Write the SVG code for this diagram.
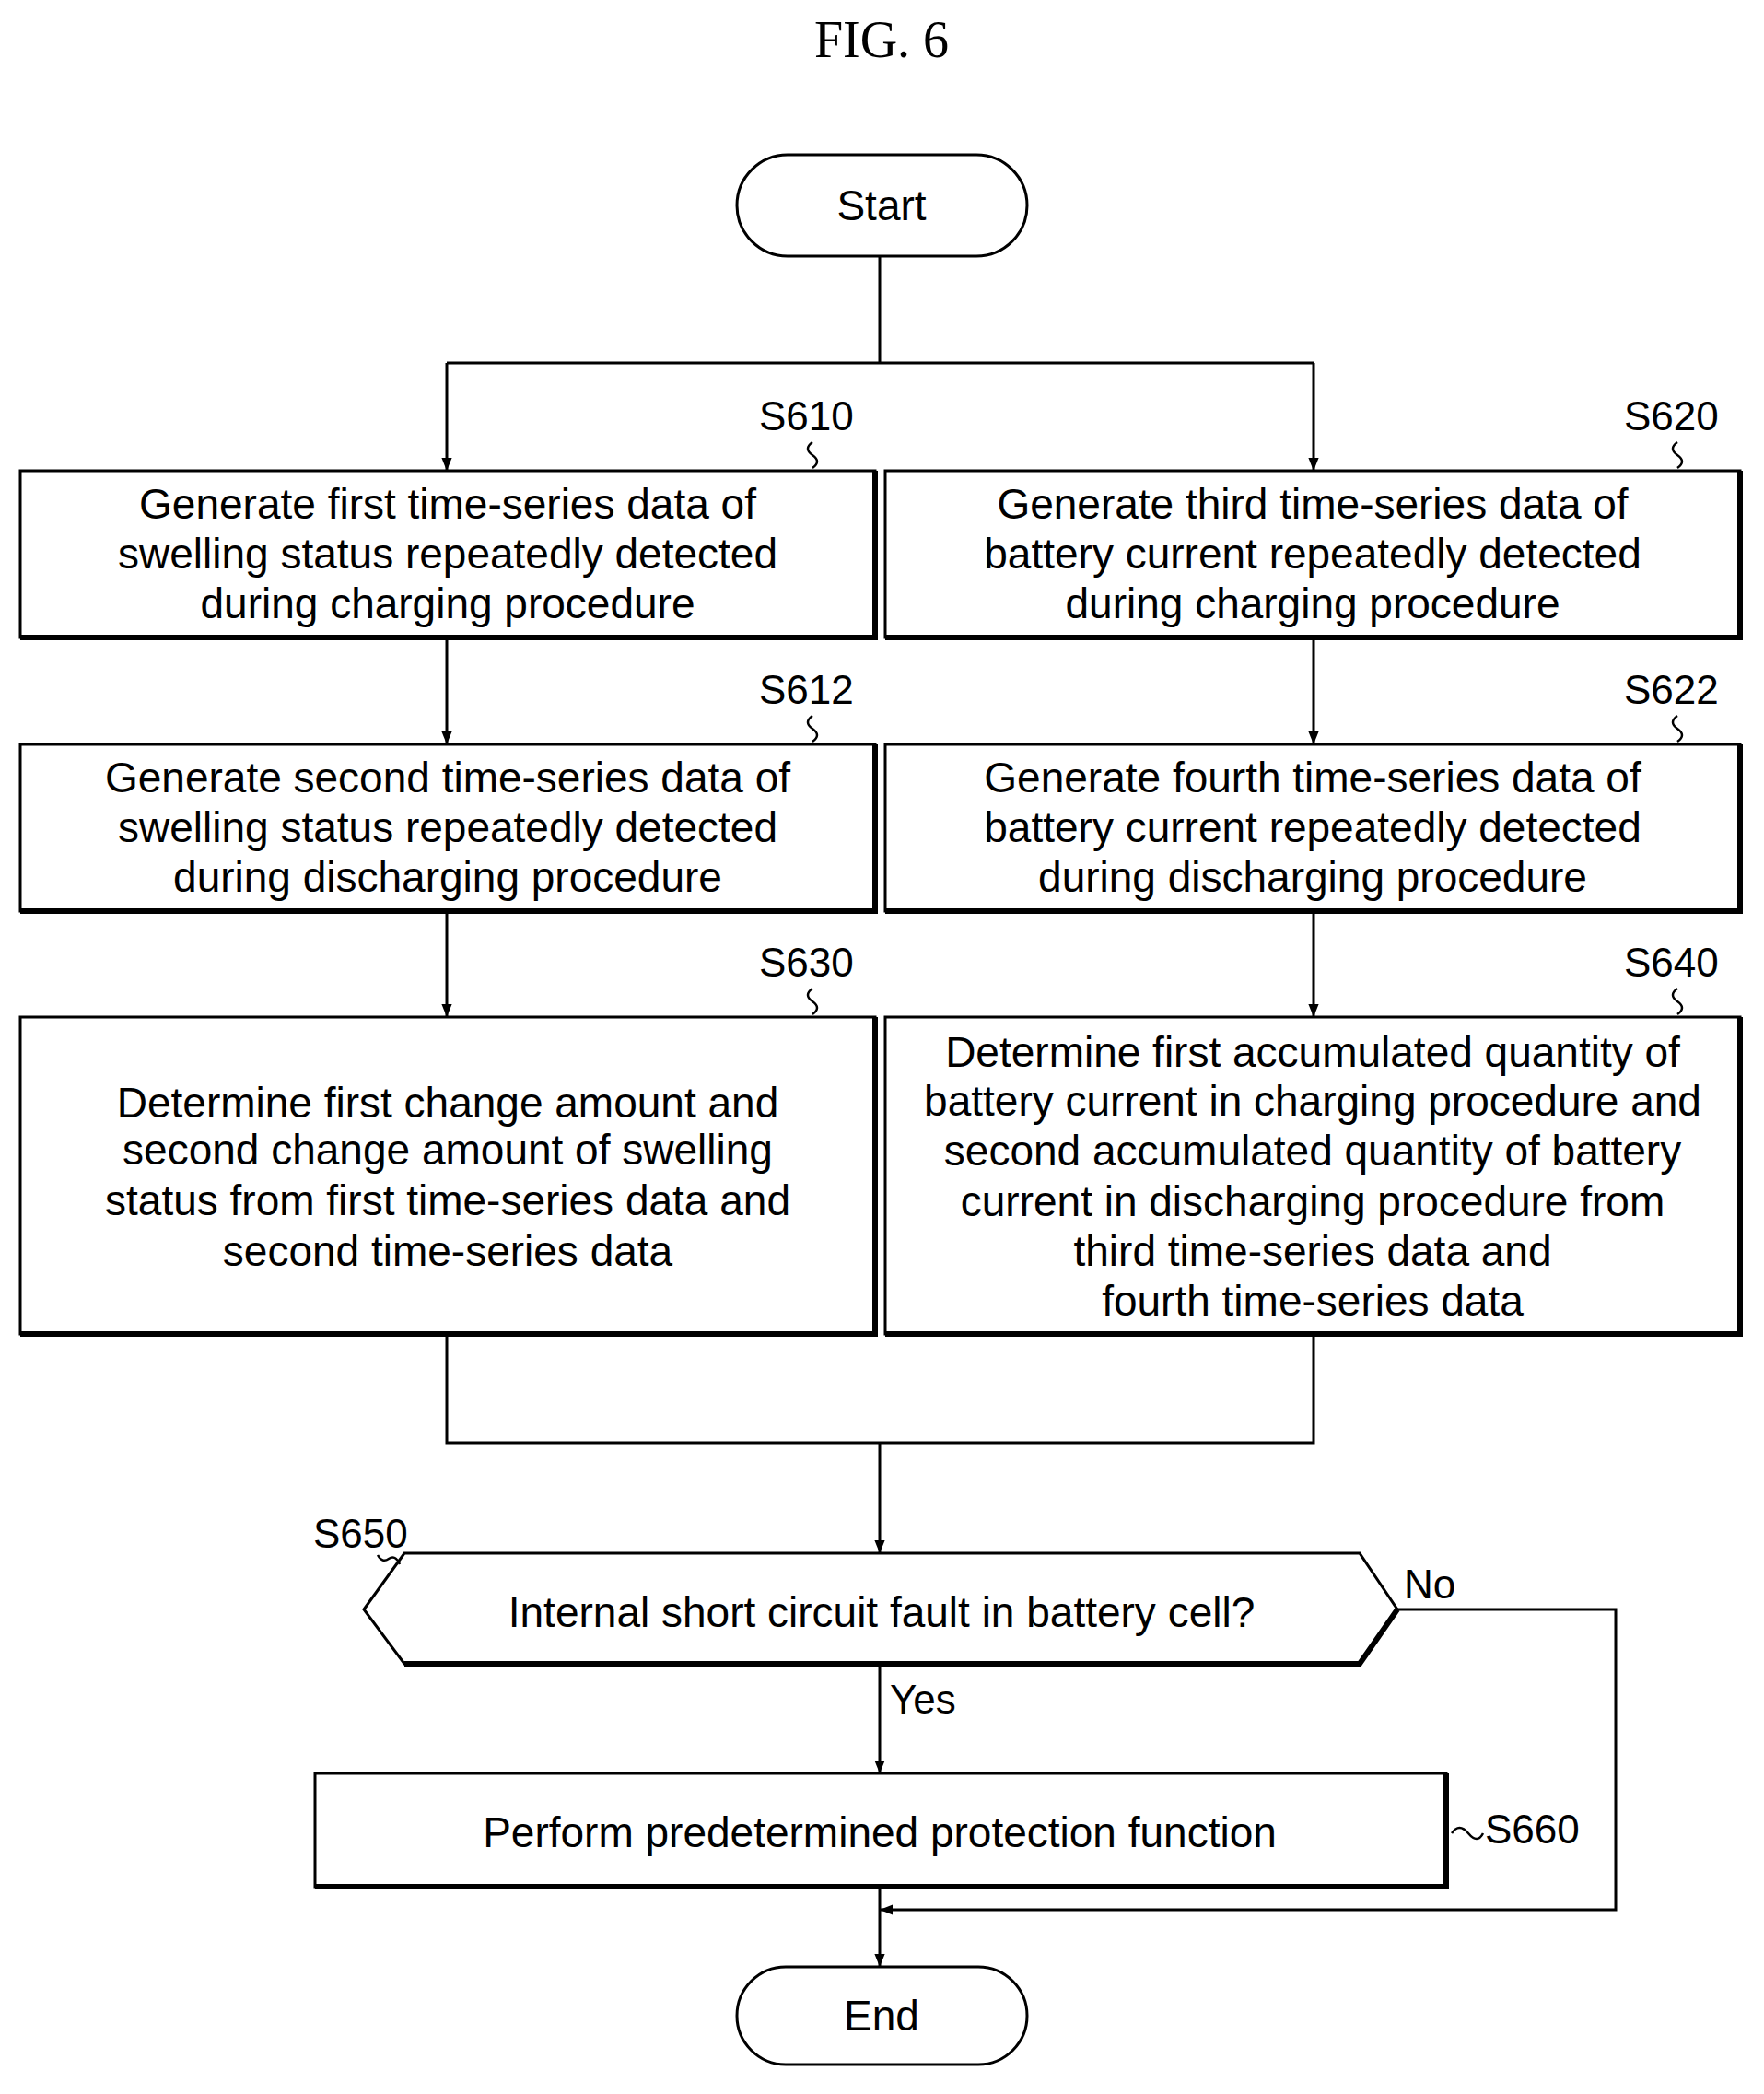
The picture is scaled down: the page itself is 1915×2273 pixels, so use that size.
<svg xmlns="http://www.w3.org/2000/svg" width="1915" height="2273" viewBox="0 0 1915 2273">
<defs>
<style>
.b{fill:#fff;stroke:#000;stroke-width:3}
.sh{fill:none;stroke:#000;stroke-width:6}
.c{fill:none;stroke:#000;stroke-width:3}
.q{fill:none;stroke:#000;stroke-width:2.5}
.t{font-family:"Liberation Sans",Arial,sans-serif;font-size:46px;text-anchor:middle;fill:#000}
.l{font-family:"Liberation Sans",Arial,sans-serif;font-size:44px;fill:#000}
</style>
<marker id="ar" viewBox="0 0 10 10" refX="10" refY="5" markerWidth="14" markerHeight="14" markerUnits="userSpaceOnUse" orient="auto"><path d="M0,1L10,5L0,9z" fill="#000"/></marker>
</defs>
<rect width="1915" height="2273" fill="#fff"/>
<text x="957" y="62" font-family="Liberation Serif,serif" font-size="56" text-anchor="middle">FIG. 6</text>
<g id="connectors">
<path class="c" d="M955,278V394M485,394H1426"/>
<path class="c" d="M485,394V511" marker-end="url(#ar)"/>
<path class="c" d="M1426,394V511" marker-end="url(#ar)"/>
<path class="c" d="M485,692V808" marker-end="url(#ar)"/>
<path class="c" d="M1426,692V808" marker-end="url(#ar)"/>
<path class="c" d="M485,989V1104" marker-end="url(#ar)"/>
<path class="c" d="M1426,989V1104" marker-end="url(#ar)"/>
<path class="c" d="M485,1448V1566H1426V1448"/>
<path class="c" d="M955,1566V1686" marker-end="url(#ar)"/>
<path class="c" d="M955,1806V1925" marker-end="url(#ar)"/>
<path class="c" d="M1517,1747H1754V2073H955" marker-end="url(#ar)"/>
<path class="c" d="M955,2048V2135" marker-end="url(#ar)"/>
<text class="l" x="966" y="1860">Yes</text>
<text class="l" x="1524" y="1735">No</text>
</g>
<g id="start"><rect class="b" x="800" y="168" width="315" height="110" rx="55"/><text class="t" x="957" y="239">Start</text></g>
<g id="S610"><rect class="b" x="22" y="511" width="928" height="181"/><path class="sh" d="M22,692H950V511"/>
<text class="t" x="486" y="563">Generate first time-series data of</text><text class="t" x="486" y="617">swelling status repeatedly detected</text><text class="t" x="486" y="671">during charging procedure</text>
<text class="l" x="824" y="467">S610</text><path class="q" d="M882,480q-10,7 0,14t0,14"/></g>
<g id="S620"><rect class="b" x="961" y="511" width="928" height="181"/><path class="sh" d="M961,692H1889V511"/>
<text class="t" x="1425" y="563">Generate third time-series data of</text><text class="t" x="1425" y="617">battery current repeatedly detected</text><text class="t" x="1425" y="671">during charging procedure</text>
<text class="l" x="1763" y="467">S620</text><path class="q" d="M1821,480q-10,7 0,14t0,14"/></g>
<g id="S612"><rect class="b" x="22" y="808" width="928" height="181"/><path class="sh" d="M22,989H950V808"/>
<text class="t" x="486" y="860">Generate second time-series data of</text><text class="t" x="486" y="914">swelling status repeatedly detected</text><text class="t" x="486" y="968">during discharging procedure</text>
<text class="l" x="824" y="764">S612</text><path class="q" d="M882,777q-10,7 0,14t0,14"/></g>
<g id="S622"><rect class="b" x="961" y="808" width="928" height="181"/><path class="sh" d="M961,989H1889V808"/>
<text class="t" x="1425" y="860">Generate fourth time-series data of</text><text class="t" x="1425" y="914">battery current repeatedly detected</text><text class="t" x="1425" y="968">during discharging procedure</text>
<text class="l" x="1763" y="764">S622</text><path class="q" d="M1821,777q-10,7 0,14t0,14"/></g>
<g id="S630"><rect class="b" x="22" y="1104" width="928" height="344"/><path class="sh" d="M22,1448H950V1104"/>
<text class="t" x="486" y="1213">Determine first change amount and</text><text class="t" x="486" y="1264">second change amount of swelling</text><text class="t" x="486" y="1319">status from first time-series data and</text><text class="t" x="486" y="1374">second time-series data</text>
<text class="l" x="824" y="1060">S630</text><path class="q" d="M882,1073q-10,7 0,14t0,14"/></g>
<g id="S640"><rect class="b" x="961" y="1104" width="928" height="344"/><path class="sh" d="M961,1448H1889V1104"/>
<text class="t" x="1425" y="1158">Determine first accumulated quantity of</text><text class="t" x="1425" y="1211">battery current in charging procedure and</text><text class="t" x="1425" y="1265">second accumulated quantity of battery</text><text class="t" x="1425" y="1320">current in discharging procedure from</text><text class="t" x="1425" y="1374">third time-series data and</text><text class="t" x="1425" y="1428">fourth time-series data</text>
<text class="l" x="1763" y="1060">S640</text><path class="q" d="M1821,1073q-10,7 0,14t0,14"/></g>
<g id="S650"><polygon class="b" points="395,1747 439,1686 1476,1686 1517,1747 1476,1806 439,1806"/><path class="sh" d="M1517,1747L1476,1806H439"/>
<text class="t" x="957" y="1766">Internal short circuit fault in battery cell?</text>
<text class="l" x="340" y="1680">S650</text><path class="q" d="M410,1688q5,9 12,4t12,6"/></g>
<g id="S660"><rect class="b" x="342" y="1925" width="1228" height="123"/><path class="sh" d="M342,2048H1570V1925"/>
<text class="t" x="955" y="2005">Perform predetermined protection function</text>
<text class="l" x="1612" y="2001">S660</text><path class="q" d="M1576,1990q8,-12 18,0t16,0"/></g>
<g id="end"><rect class="b" x="800" y="2135" width="315" height="106" rx="53"/><text class="t" x="957" y="2204">End</text></g>
</svg>
